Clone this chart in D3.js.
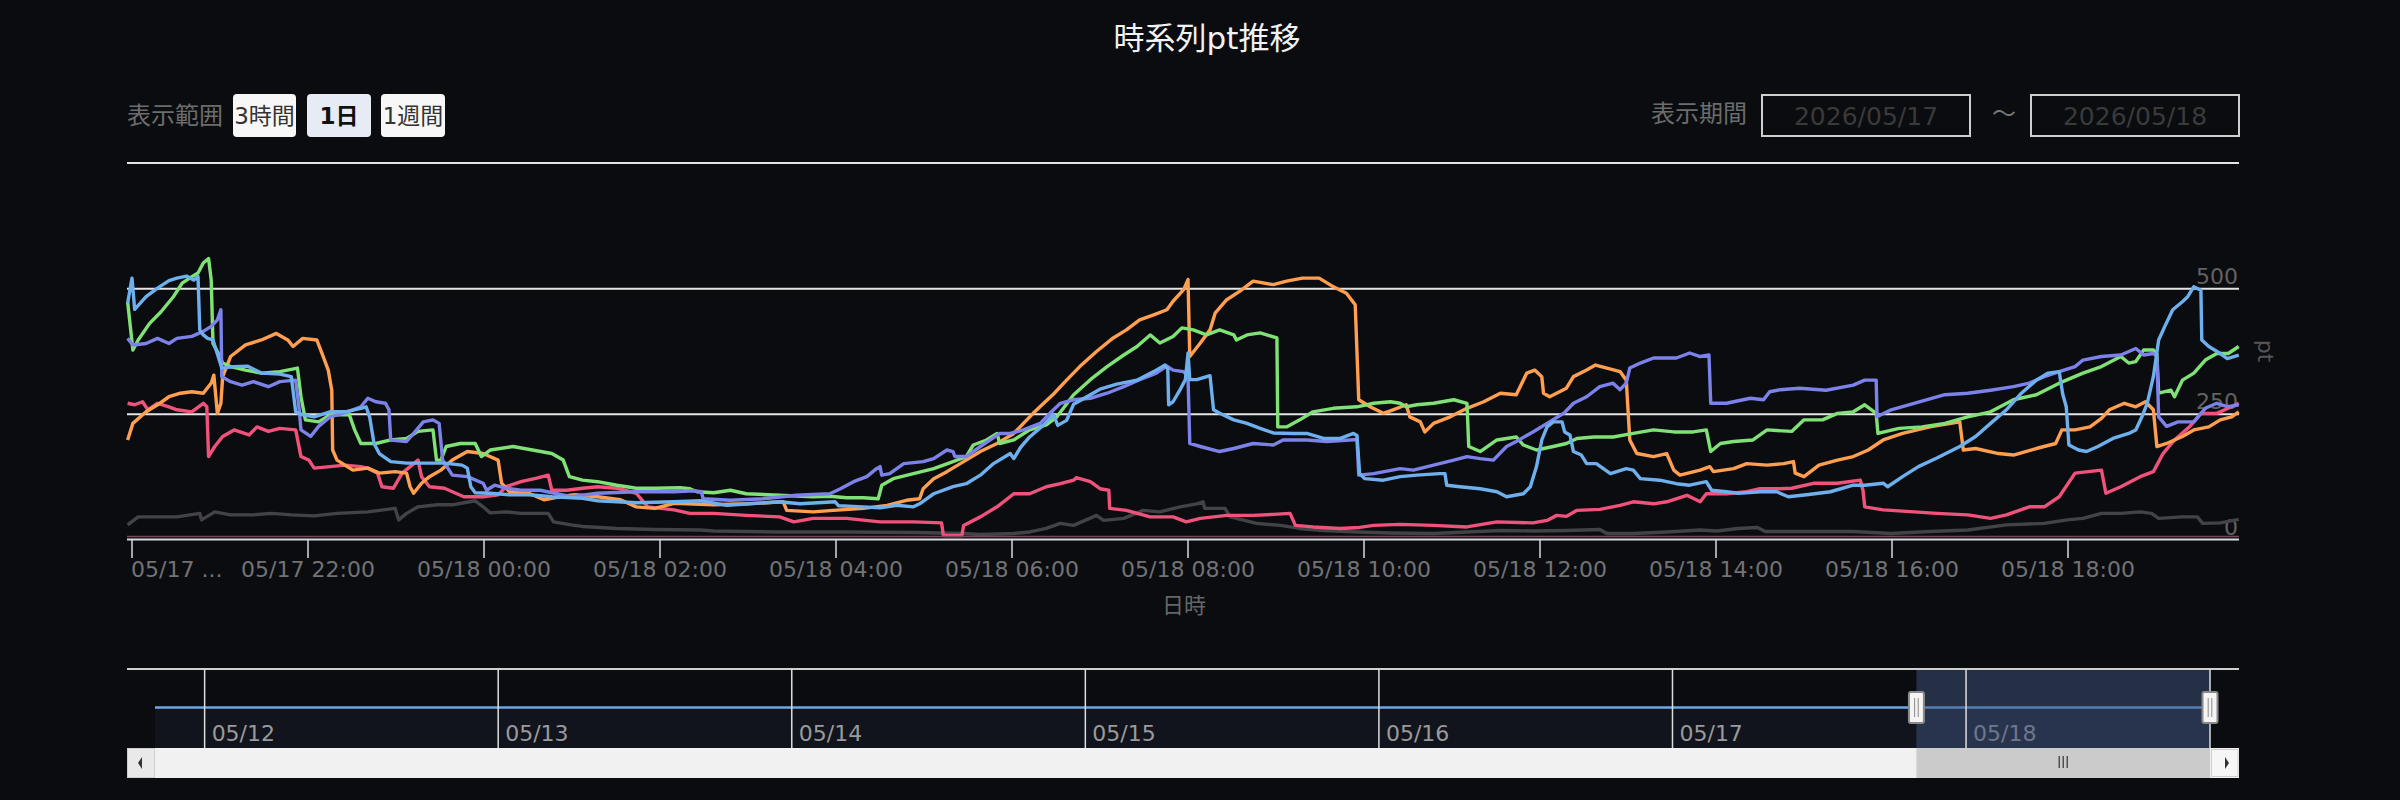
<!DOCTYPE html>
<html><head><meta charset="utf-8">
<script src="https://cdn.jsdelivr.net/npm/d3@7"></script>
<style>
html,body{margin:0;padding:0;background:#0a0c10;}
svg{display:block;font-family:"DejaVu Sans","Noto Sans CJK JP",sans-serif;}
</style></head>
<body><svg id="c" width="2400" height="800"></svg>
<script>
// ---- data (hours after 2026-05-17 20:00, value in pt) ----
const titleText = "時系列pt推移";
const rangeButtons = ["3時間", "1日", "1週間"];
const periodFrom = "2026/05/17", periodTo = "2026/05/18";
const yTicks = [0, 250, 500, 750];
const navDays = ["05/12","05/13","05/14","05/15","05/16","05/17","05/18"];
const navValues = [[-0.05, 1], [23.94, 1]];

const seriesGray = [[-0.05,30],[0.07,46],[0.29,46],[0.51,46],[0.77,53],[0.79,40],[0.94,56],[1.12,50],[1.38,50],[1.59,53],[1.81,50],[2.07,48],[2.33,53],[2.68,56],[2.99,63],[3.03,40],[3.12,53],[3.25,66],[3.47,70],[3.64,70],[3.90,78],[3.99,66],[4.07,54],[4.25,56],[4.42,53],[4.73,53],[4.79,36],[4.99,30],[5.12,27],[5.51,23],[5.94,21],[6.46,20],[6.61,18],[7.36,16],[8.12,16],[8.88,15],[9.45,13],[9.64,11],[10.02,13],[10.20,16],[10.39,23],[10.55,33],[10.70,29],[10.96,49],[11.04,39],[11.27,43],[11.49,59],[11.68,56],[11.91,66],[12.10,72],[12.17,76],[12.19,63],[12.42,63],[12.48,46],[12.78,33],[13.05,29],[13.27,23],[13.54,19],[13.92,16],[14.30,14],[14.79,13],[15.17,16],[15.55,19],[15.92,18],[16.30,19],[16.68,21],[16.76,13],[17.06,13],[17.44,16],[17.82,20],[18.01,18],[18.25,23],[18.47,25],[18.56,17],[19.12,17],[19.56,17],[19.99,13],[20.43,17],[20.86,20],[21.30,30],[21.73,33],[21.99,40],[22.17,43],[22.38,53],[22.60,53],[22.82,56],[22.95,53],[23.03,43],[23.30,46],[23.47,46],[23.53,33],[23.73,34],[23.94,41]];

const seriesPink = [[-0.05,272],[0.03,269],[0.12,275],[0.18,259],[0.29,272],[0.42,265],[0.51,259],[0.68,255],[0.81,272],[0.85,265],[0.87,166],[0.94,186],[1.03,206],[1.16,219],[1.33,209],[1.42,225],[1.55,216],[1.68,222],[1.86,219],[1.92,166],[2.01,159],[2.07,143],[2.25,146],[2.42,149],[2.60,146],[2.68,143],[2.79,133],[2.84,106],[2.97,103],[3.07,133],[3.25,159],[3.29,126],[3.38,106],[3.55,103],[3.77,86],[3.99,86],[4.16,90],[4.25,106],[4.42,116],[4.60,123],[4.73,129],[4.77,99],[4.94,99],[5.12,103],[5.29,106],[5.51,103],[5.73,93],[5.86,66],[6.16,60],[6.34,53],[6.61,53],[6.98,49],[7.36,46],[7.52,36],[7.74,43],[8.12,43],[8.50,36],[8.88,36],[9.20,34],[9.22,9],[9.43,9],[9.45,29],[9.64,46],[9.83,66],[10.02,92],[10.20,92],[10.39,106],[10.55,112],[10.70,119],[10.73,124],[10.89,116],[11.0,102],[11.10,99],[11.11,63],[11.30,59],[11.57,46],[11.83,46],[11.98,36],[12.14,43],[12.44,49],[12.74,49],[12.97,51],[13.16,53],[13.22,29],[13.42,26],[13.73,23],[13.95,25],[14.11,29],[14.41,31],[14.79,29],[15.17,26],[15.51,36],[15.92,34],[16.08,39],[16.19,49],[16.30,47],[16.42,59],[16.68,61],[16.91,69],[17.06,76],[17.29,72],[17.44,76],[17.67,89],[17.82,76],[17.89,92],[18.12,92],[18.35,96],[18.50,102],[18.73,102],[18.86,103],[19.12,113],[19.38,113],[19.64,119],[19.67,99],[19.69,66],[19.90,60],[20.25,56],[20.51,53],[20.86,50],[21.12,43],[21.30,50],[21.56,66],[21.73,66],[21.90,86],[22.08,133],[22.38,139],[22.43,93],[22.60,106],[22.82,126],[22.97,136],[23.08,172],[23.21,199],[23.38,225],[23.51,252],[23.69,252],[23.82,262],[23.94,272]];

const seriesOrange = [[-0.05,199],[0.01,232],[0.16,255],[0.29,269],[0.42,285],[0.55,292],[0.68,295],[0.81,292],[0.90,312],[0.93,328],[0.97,252],[1.01,272],[1.03,325],[1.12,365],[1.29,388],[1.47,398],[1.64,411],[1.77,398],[1.83,385],[1.94,401],[2.10,398],[2.16,371],[2.23,338],[2.27,298],[2.28,179],[2.33,159],[2.51,139],[2.68,143],[2.81,133],[2.99,136],[3.12,133],[3.16,106],[3.20,93],[3.29,113],[3.38,126],[3.51,139],[3.64,159],[3.81,176],[3.99,172],[4.16,159],[4.20,113],[4.29,96],[4.51,93],[4.68,80],[4.86,86],[5.03,90],[5.29,86],[5.55,80],[5.73,66],[5.94,63],[6.16,73],[6.61,70],[6.98,72],[7.40,76],[7.44,59],[7.74,56],[7.97,59],[8.31,63],[8.58,69],[8.80,79],[8.95,82],[8.99,102],[9.11,122],[9.26,136],[9.45,156],[9.64,176],[9.83,192],[10.02,212],[10.13,232],[10.24,252],[10.36,272],[10.47,290],[10.62,318],[10.77,345],[10.96,375],[11.15,402],[11.30,418],[11.45,438],[11.61,448],[11.76,458],[11.83,475],[11.95,498],[12.0,518],[12.02,365],[12.14,392],[12.25,418],[12.31,452],[12.44,478],[12.59,495],[12.74,515],[12.97,508],[13.12,515],[13.30,521],[13.49,521],[13.64,505],[13.80,491],[13.90,468],[13.94,279],[14.07,265],[14.22,252],[14.33,259],[14.48,269],[14.52,245],[14.64,235],[14.69,215],[14.79,232],[14.98,245],[15.17,262],[15.36,275],[15.55,292],[15.73,289],[15.85,332],[15.94,338],[16.02,325],[16.04,292],[16.11,285],[16.30,302],[16.38,325],[16.53,338],[16.63,348],[16.76,342],[16.91,335],[16.98,318],[17.02,199],[17.10,172],[17.29,166],[17.44,172],[17.52,139],[17.59,129],[17.82,139],[17.93,146],[17.97,136],[18.20,142],[18.35,152],[18.58,149],[18.77,152],[18.88,156],[18.90,133],[19.0,126],[19.17,149],[19.38,159],[19.56,166],[19.73,179],[19.90,199],[20.12,212],[20.43,225],[20.77,235],[20.81,179],[20.95,182],[21.21,172],[21.38,169],[21.64,182],[21.86,192],[21.93,219],[22.08,219],[22.25,225],[22.38,242],[22.47,259],[22.64,272],[22.77,265],[22.88,275],[22.97,259],[23.01,186],[23.12,192],[23.30,206],[23.43,219],[23.60,225],[23.73,239],[23.86,245],[23.94,255]];

const seriesGreen = [[-0.05,474],[0.01,378],[0.07,398],[0.20,431],[0.33,454],[0.47,484],[0.57,511],[0.68,524],[0.75,531],[0.81,551],[0.87,560],[0.90,517],[0.92,391],[0.97,375],[1.03,352],[1.12,345],[1.29,338],[1.47,332],[1.68,335],[1.88,342],[1.92,285],[1.97,239],[2.12,235],[2.25,249],[2.47,249],[2.53,219],[2.60,192],[2.77,192],[2.94,199],[3.12,202],[3.25,216],[3.42,219],[3.46,159],[3.51,159],[3.57,186],[3.73,192],[3.90,192],[3.97,166],[4.07,179],[4.33,186],[4.55,179],[4.77,172],[4.90,159],[4.97,126],[5.12,119],[5.29,116],[5.51,109],[5.73,103],[5.94,103],[6.23,104],[6.34,102],[6.42,96],[6.61,94],[6.80,99],[6.98,92],[7.36,89],[7.74,86],[7.93,87],[8.12,84],[8.31,84],[8.48,82],[8.52,109],[8.65,122],[8.88,132],[9.11,142],[9.33,156],[9.48,166],[9.56,189],[9.71,199],[9.83,212],[9.86,192],[10.02,199],[10.20,219],[10.39,229],[10.51,245],[10.70,289],[10.89,319],[11.08,345],[11.27,368],[11.42,385],[11.57,408],[11.68,392],[11.83,405],[11.93,422],[12.06,418],[12.21,408],[12.36,418],[12.52,408],[12.55,398],[12.67,408],[12.82,412],[13.01,402],[13.02,225],[13.12,225],[13.27,239],[13.42,255],[13.65,262],[13.92,265],[14.11,272],[14.30,275],[14.41,272],[14.48,265],[14.60,269],[14.79,272],[15.02,279],[15.17,272],[15.19,186],[15.32,176],[15.51,199],[15.73,205],[15.81,189],[15.96,179],[16.15,186],[16.30,192],[16.42,202],[16.61,205],[16.83,205],[17.06,212],[17.29,219],[17.52,215],[17.74,215],[17.89,219],[17.94,176],[18.05,192],[18.20,196],[18.42,199],[18.58,219],[18.86,216],[19.0,239],[19.21,239],[19.38,252],[19.56,255],[19.69,269],[19.82,252],[19.84,212],[20.08,222],[20.34,225],[20.60,232],[20.86,245],[21.12,255],[21.38,279],[21.64,289],[21.90,312],[22.17,332],[22.38,345],[22.60,365],[22.69,352],[22.77,355],[22.86,378],[22.97,378],[23.01,370],[23.03,292],[23.17,298],[23.21,285],[23.30,318],[23.43,332],[23.56,358],[23.69,371],[23.82,371],[23.94,385]];

const seriesPurple = [[-0.05,401],[0.01,388],[0.16,391],[0.29,401],[0.42,391],[0.51,401],[0.68,405],[0.81,415],[0.90,425],[0.97,438],[1.01,458],[1.02,325],[1.12,315],[1.25,308],[1.38,315],[1.55,305],[1.68,315],[1.86,318],[1.90,259],[1.92,219],[2.03,206],[2.12,226],[2.25,245],[2.42,253],[2.60,265],[2.68,282],[2.77,275],[2.88,272],[2.92,259],[2.94,199],[3.12,196],[3.20,212],[3.31,235],[3.42,239],[3.49,232],[3.53,159],[3.64,129],[3.81,126],[3.99,113],[4.03,99],[4.12,109],[4.25,103],[4.42,99],[4.64,99],[4.99,86],[5.29,93],[5.73,96],[6.16,96],[6.38,98],[6.47,96],[6.49,82],[6.80,79],[7.17,82],[7.55,89],[7.93,92],[8.05,102],[8.20,116],[8.35,126],[8.46,142],[8.50,146],[8.52,129],[8.61,132],[8.77,152],[8.99,156],[9.11,162],[9.26,179],[9.33,176],[9.35,166],[9.48,166],[9.64,186],[9.86,212],[9.98,212],[10.13,219],[10.32,232],[10.43,252],[10.55,272],[10.70,279],[10.89,282],[11.08,292],[11.27,305],[11.45,319],[11.64,332],[11.76,346],[11.83,338],[11.95,335],[12.0,325],[12.02,192],[12.14,186],[12.36,176],[12.52,182],[12.74,192],[12.97,189],[13.08,199],[13.35,199],[13.58,196],[13.84,199],[13.92,200],[13.94,129],[14.11,132],[14.41,142],[14.56,139],[14.79,149],[15.02,159],[15.17,166],[15.32,162],[15.47,159],[15.62,186],[15.73,196],[15.92,215],[16.08,232],[16.27,252],[16.38,272],[16.53,285],[16.68,305],[16.83,312],[16.91,299],[16.98,312],[17.02,342],[17.14,352],[17.29,362],[17.55,362],[17.70,372],[17.82,365],[17.92,368],[17.94,272],[18.12,272],[18.39,282],[18.54,279],[18.61,295],[18.73,299],[18.95,302],[19.25,298],[19.56,308],[19.69,318],[19.82,318],[19.83,245],[19.99,259],[20.25,272],[20.60,289],[20.86,292],[21.12,298],[21.38,305],[21.56,312],[21.73,325],[21.90,335],[22.08,345],[22.17,358],[22.38,365],[22.60,368],[22.77,381],[22.86,368],[22.97,371],[23.01,365],[23.03,245],[23.12,226],[23.25,235],[23.43,235],[23.56,262],[23.69,272],[23.82,265],[23.94,269]];

const seriesBlue = [[-0.05,471],[0.0,521],[0.03,459],[0.16,484],[0.29,501],[0.42,516],[0.51,521],[0.62,525],[0.70,517],[0.75,524],[0.77,418],[0.81,408],[0.86,401],[0.92,398],[1.02,342],[1.16,345],[1.31,346],[1.47,332],[1.68,330],[1.81,325],[1.86,255],[1.94,249],[2.07,245],[2.25,255],[2.42,255],[2.60,262],[2.66,265],[2.70,245],[2.75,192],[2.81,172],[2.94,156],[3.12,153],[3.38,153],[3.55,153],[3.75,149],[3.81,143],[3.85,106],[3.90,94],[4.07,93],[4.29,90],[4.51,90],[4.77,86],[5.12,83],[5.29,78],[5.73,74],[6.16,76],[6.46,78],[6.76,69],[7.36,76],[7.59,72],[7.99,76],[8.03,68],[8.31,66],[8.50,64],[8.69,69],[8.88,66],[8.95,72],[9.11,92],[9.33,106],[9.48,112],[9.64,129],[9.79,152],[9.98,172],[10.02,162],[10.10,185],[10.20,205],[10.36,229],[10.47,250],[10.52,228],[10.62,238],[10.70,270],[10.85,285],[11.0,300],[11.19,310],[11.42,318],[11.61,335],[11.74,348],[11.77,340],[11.78,269],[11.83,275],[11.91,299],[11.97,319],[12.0,372],[12.02,319],[12.1,319],[12.25,327],[12.29,259],[12.36,252],[12.52,239],[12.67,232],[12.82,222],[12.97,213],[13.20,212],[13.35,212],[13.54,202],[13.73,202],[13.88,212],[13.92,208],[13.95,132],[14.01,122],[14.22,119],[14.41,126],[14.60,129],[14.86,132],[14.92,132],[14.94,109],[15.09,106],[15.32,102],[15.51,96],[15.62,86],[15.81,92],[15.89,106],[15.96,146],[16.02,199],[16.08,225],[16.15,235],[16.25,235],[16.28,215],[16.34,209],[16.38,176],[16.47,169],[16.53,152],[16.64,152],[16.80,132],[16.98,142],[17.06,139],[17.14,122],[17.36,119],[17.55,112],[17.70,109],[17.89,116],[17.95,99],[18.12,96],[18.25,93],[18.51,96],[18.69,96],[18.82,86],[19.03,90],[19.30,96],[19.56,109],[19.69,109],[19.90,113],[19.95,106],[20.12,126],[20.30,146],[20.51,163],[20.77,186],[20.95,206],[21.12,232],[21.30,259],[21.47,292],[21.64,318],[21.77,332],[21.90,335],[21.94,290],[21.98,265],[22.01,189],[22.12,179],[22.21,176],[22.34,186],[22.51,202],[22.69,212],[22.77,219],[22.84,245],[22.90,272],[22.97,325],[23.03,398],[23.10,425],[23.19,458],[23.30,474],[23.36,484],[23.43,504],[23.51,497],[23.52,398],[23.60,385],[23.73,371],[23.81,361],[23.94,368]];

const seriesList = [
  {name:"gray", color:"#434347", data:seriesGray},
  {name:"pink", color:"#f0527c", data:seriesPink},
  {name:"orange", color:"#ff9f4f", data:seriesOrange},
  {name:"green", color:"#80e276", data:seriesGreen},
  {name:"purple", color:"#7d82ea", data:seriesPurple},
  {name:"blue", color:"#6eb0ee", data:seriesBlue}
];

// ---- drawing ----
const svg = d3.select("#c");
const t0 = new Date(2026, 4, 17, 20, 0, 0);
const toDate = h => new Date(t0.getTime() + h * 3600000);

const L = 127, R = 2239, T = 163, B = 540;
const x = d3.scaleTime().domain([toDate(-0.057), toDate(23.943)]).range([L, R]);
const y = d3.scaleLinear().domain([0, 750]).range([B, T]);

// title
svg.append("text").attr("x", 1207).attr("y", 38).attr("text-anchor","middle")
  .attr("dominant-baseline","central").attr("fill","#f2f2f2").attr("font-size",31).text(titleText);

// toolbar left
svg.append("text").attr("x", 127).attr("y", 116).attr("dominant-baseline","central")
  .attr("fill","#6c6c6c").attr("font-size",24).text("表示範囲");
const btnX = [233, 307, 381], btnW = [63, 64, 64];
rangeButtons.forEach((b, i) => {
  svg.append("rect").attr("x", btnX[i]).attr("y", 94).attr("width", btnW[i]).attr("height", 43)
    .attr("rx", 4).attr("fill", i === 1 ? "#e6ebf6" : "#f7f7f7");
  svg.append("text").attr("x", btnX[i] + btnW[i] / 2).attr("y", 116).attr("text-anchor","middle")
    .attr("dominant-baseline","central").attr("font-size",23)
    .attr("font-weight", i === 1 ? "bold" : "normal").attr("fill", i === 1 ? "#111" : "#333").text(b);
});

// toolbar right
svg.append("text").attr("x", 1747).attr("y", 114).attr("text-anchor","end").attr("dominant-baseline","central")
  .attr("fill","#6c6c6c").attr("font-size",24).text("表示期間");
[[1762, periodFrom], [2031, periodTo]].forEach(([bx, t]) => {
  svg.append("rect").attr("x", bx).attr("y", 95).attr("width", 208).attr("height", 41)
    .attr("fill","none").attr("stroke","#cfcfcf").attr("stroke-width",2);
  svg.append("text").attr("x", bx + 104).attr("y", 116).attr("text-anchor","middle").attr("dominant-baseline","central")
    .attr("fill","#3a3a3a").attr("font-size",25).text(t);
});
svg.append("text").attr("x", 2004).attr("y", 114).attr("text-anchor","middle").attr("dominant-baseline","central")
  .attr("fill","#777").attr("font-size",24).text("〜");

// gridlines
const g = svg.append("g");
yTicks.filter(v => v > 0).forEach(v => {
  g.append("line").attr("x1", L).attr("x2", R).attr("y1", y(v)).attr("y2", y(v))
    .attr("stroke","#e4e4e4").attr("stroke-width",2);
});
// y labels (inside, right)
yTicks.filter(v => v < 750).forEach(v => {
  g.append("text").attr("x", R - 1).attr("y", y(v) - 5).attr("text-anchor","end")
    .attr("fill","#626262").attr("font-size",22).text(v);
});
// y axis title
svg.append("text").attr("transform", "translate(2265,351) rotate(90)").attr("text-anchor","middle")
  .attr("dominant-baseline","central").attr("fill","#555").attr("font-size",22).text("pt");

// series
const line = d3.line().x(d => x(toDate(d[0]))).y(d => y(d[1]));
const sg = svg.append("g");
seriesList.forEach(s => {
  sg.append("path").datum(s.data).attr("d", line).attr("fill","none")
    .attr("stroke", s.color).attr("stroke-width", 3.4).attr("stroke-linejoin","round");
});

// x axis
svg.append("line").attr("x1", L).attr("x2", R).attr("y1", B - 3.5).attr("y2", B - 3.5)
  .attr("stroke","#7c4656").attr("stroke-width",1.5);
svg.append("line").attr("x1", L).attr("x2", R).attr("y1", B - 0.5).attr("y2", B - 0.5)
  .attr("stroke","#d6d9e4").attr("stroke-width",2);
const ticks = x.ticks(d3.timeHour.every(2));
const fmt = d3.timeFormat("%m/%d %H:%M");
ticks.forEach((t, i) => {
  const tx = x(t);
  svg.append("line").attr("x1", tx).attr("x2", tx).attr("y1", B).attr("y2", B + 18)
    .attr("stroke","#d6d9e4").attr("stroke-width",1.5);
  svg.append("text").attr("x", i === 0 ? tx - 1 : tx).attr("y", 577)
    .attr("text-anchor", i === 0 ? "start" : "middle")
    .attr("fill","#737373").attr("font-size",22).text(i === 0 ? fmt(t).slice(0, 5) + " ..." : fmt(t));
});
svg.append("text").attr("x", 1184).attr("y", 605).attr("text-anchor","middle").attr("dominant-baseline","central")
  .attr("fill","#666").attr("font-size",22).text("日時");

// ---- navigator ----
const NT = 669, NB = 748, NL = 155, NR = 2210;
const navStart = toDate(-0.057 - 6 * 24), navEnd = toDate(23.943);
const nx = d3.scaleTime().domain([navStart, navEnd]).range([NL, NR]);
const ny = d3.scaleLinear().domain([0, 1.95]).range([NB, NT]);
const navData = [[-0.057 - 6 * 24, navValues[0][1]], [23.943, navValues[1][1]]];
svg.append("path").datum(navData)
  .attr("d", d3.area().x(d => nx(toDate(d[0]))).y0(NB).y1(d => ny(d[1])))
  .attr("fill","#11141c");
svg.append("line").attr("x1", L).attr("x2", R).attr("y1", NT).attr("y2", NT)
  .attr("stroke","#cfcfcf").attr("stroke-width",2);
const dayTicks = nx.ticks(d3.timeDay.every(1));
dayTicks.forEach((d, i) => {
  svg.append("text").attr("x", nx(d) + 7).attr("y", 741).attr("fill","#9a9a9a")
    .attr("font-size",22).text(navDays[i]);
});
svg.append("path").datum(navData)
  .attr("d", d3.line().x(d => nx(toDate(d[0]))).y(d => ny(d[1])))
  .attr("stroke","#6aa8ea").attr("stroke-width",2.5).attr("fill","none");
// selection overlay
const sx0 = nx(toDate(-0.057)), sx1 = nx(toDate(23.943));
svg.append("rect").attr("x", sx0).attr("y", NT + 1).attr("width", sx1 - sx0).attr("height", NB - NT - 1)
  .attr("fill","#40547e").attr("opacity",0.5);
dayTicks.forEach(d => {
  svg.append("line").attr("x1", nx(d)).attr("x2", nx(d)).attr("y1", NT).attr("y2", NB)
    .attr("stroke","#dedede").attr("stroke-width",1.5);
});
svg.append("line").attr("x1", sx1).attr("x2", sx1).attr("y1", NT).attr("y2", NB)
  .attr("stroke","#dedede").attr("stroke-width",1.5);

// scrollbar
const SB = 748, SH = 30;
svg.append("rect").attr("x", L).attr("y", SB).attr("width", R - L).attr("height", SH).attr("fill","#f1f1f1");
svg.append("rect").attr("x", L + 0.5).attr("y", SB + 0.5).attr("width", NL - L - 1).attr("height", SH - 1)
  .attr("fill","#e9e9e9").attr("stroke","#d0d0d0");
svg.append("rect").attr("x", NR + 1.5).attr("y", SB + 1.5).attr("width", R - NR - 2.5).attr("height", SH - 3)
  .attr("fill","#f6f6f6").attr("stroke","#d0d0d0");
svg.append("path").attr("d", `M${L+11},${SB+15} L${L+15},${SB+9} L${L+15},${SB+21} Z`).attr("fill","#333");
svg.append("path").attr("d", `M${R-10},${SB+15} L${R-14},${SB+9} L${R-14},${SB+21} Z`).attr("fill","#333");
svg.append("rect").attr("x", sx0).attr("y", SB).attr("width", NR - sx0).attr("height", SH).attr("fill","#cbcbcb");
const gx = (sx0 + NR) / 2;
[-4, 0, 4].forEach(o => {
  svg.append("line").attr("x1", gx + o).attr("x2", gx + o).attr("y1", SB + 8).attr("y2", SB + 20)
    .attr("stroke","#333").attr("stroke-width",1.2);
});

// selection handles
[sx0, sx1].forEach(hx => {
  svg.append("rect").attr("x", hx - 7.5).attr("y", 692).attr("width", 15).attr("height", 31).attr("rx", 2)
    .attr("fill","#f4f4f4").attr("stroke","#8a8a8a").attr("stroke-width",2);
  [-1.8, 1.8].forEach(o => {
    svg.append("line").attr("x1", hx + o).attr("x2", hx + o).attr("y1", 698).attr("y2", 717)
      .attr("stroke","#8a8a8a").attr("stroke-width",1);
  });
});
</script></body></html>
